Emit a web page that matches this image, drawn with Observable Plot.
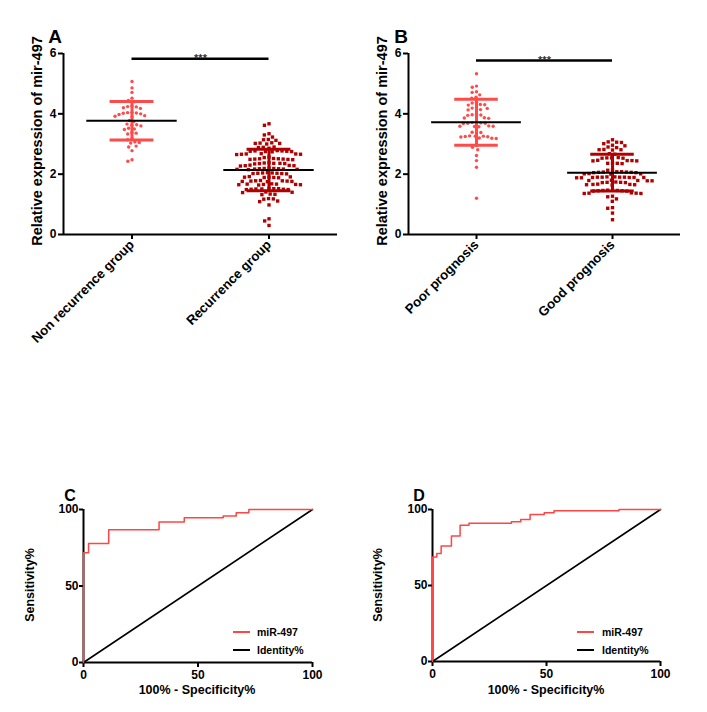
<!DOCTYPE html>
<html><head><meta charset="utf-8">
<script src="https://cdn.jsdelivr.net/npm/d3@7"></script>
<script src="https://cdn.jsdelivr.net/npm/@observablehq/plot@0.6"></script>
<style>
body{margin:0;background:#fff;}
#fig{position:relative;width:707px;height:712px;overflow:hidden;font-family:"Liberation Sans",Arial,sans-serif;font-weight:bold;color:#000;}
.abs{position:absolute;white-space:nowrap;line-height:1;}
.panel{position:absolute;}
</style></head><body><div id="fig"></div><script>
// ---------- data ----------
const groupsA = ["Non recurrence group", "Recurrence group"];
const nonRecurrence = [5.07, 4.86, 4.71, 4.52, 4.44, 4.40, 4.26, 4.24, 4.23, 4.20, 4.18, 4.05, 4.04, 4.03, 4.02, 4.00, 3.98, 3.94, 3.92, 3.90, 3.78, 3.75, 3.66, 3.64, 3.62, 3.60, 3.52, 3.50, 3.48, 3.38, 3.36, 3.33, 3.18, 3.14, 3.07, 3.05, 3.03, 2.93, 2.90, 2.78, 2.48, 2.43];
const recurrence = [3.67, 3.62, 3.34, 3.30, 3.23, 3.15, 3.14, 3.12, 3.04, 3.03, 3.02, 3.02, 3.00, 2.90, 2.89, 2.88, 2.86,
  2.78, 2.77, 2.77, 2.76, 2.76, 2.75, 2.75, 2.74, 2.68, 2.67, 2.67, 2.66, 2.66, 2.65, 2.57, 2.55,
  2.52, 2.51, 2.51, 2.50, 2.50, 2.49, 2.49, 2.48, 2.38, 2.37, 2.36, 2.36, 2.35, 2.35, 2.34,
  2.30, 2.29, 2.28, 2.28, 2.27, 2.20, 2.19, 2.19, 2.18, 2.18, 2.17, 2.17, 2.16, 2.16, 2.15,
  2.05, 2.04, 2.04, 2.03, 2.03, 2.02, 2.02, 2.01, 1.92, 1.91, 1.90, 1.90, 1.89, 1.89, 1.88,
  1.79, 1.78, 1.78, 1.77, 1.77, 1.76, 1.76, 1.75, 1.68, 1.67, 1.67, 1.66, 1.66, 1.65, 1.65, 1.64,
  1.53, 1.52, 1.52, 1.51, 1.51, 1.50, 1.50, 1.49, 1.49, 1.41, 1.40, 1.39, 1.34, 1.33, 1.32,
  1.19, 1.18, 1.17, 1.11, 1.09, 0.98, 0.52, 0.45, 0.30];
const meanA = [3.77, 2.14];
const sdA = [0.64, 0.69];

const groupsB = ["Poor prognosis", "Good prognosis"];
const poorPrognosis = [5.33, 4.92, 4.88, 4.73, 4.71, 4.63, 4.55, 4.52, 4.38, 4.36, 4.31, 4.30, 4.29, 4.20, 4.19, 4.18, 4.14, 4.13,
  3.98, 3.97, 3.96, 3.95, 3.87, 3.86, 3.85, 3.71, 3.71, 3.70, 3.69, 3.69, 3.68, 3.60, 3.59, 3.59, 3.58, 3.57,
  3.40, 3.39, 3.38, 3.27, 3.26, 3.26, 3.25, 3.24, 3.23, 3.20, 3.19, 3.18, 2.95, 2.89, 2.81, 2.62, 2.45, 2.23, 1.20];
const goodPrognosis = [3.14, 3.07, 3.06, 3.05, 3.01, 2.96, 2.94, 2.90, 2.88, 2.82, 2.81, 2.81, 2.80, 2.68, 2.66,
  2.55, 2.54, 2.54, 2.53, 2.53, 2.46, 2.45, 2.45, 2.44, 2.44, 2.37, 2.36, 2.36, 2.35, 2.15, 2.13,
  2.08, 2.08, 2.07, 2.07, 2.06, 2.06, 2.05, 2.05, 2.02, 2.01, 2.01, 2.00,
  1.91, 1.91, 1.90, 1.90, 1.90, 1.90, 1.89, 1.89, 1.89, 1.89, 1.88, 1.88,
  1.80, 1.79, 1.79, 1.78, 1.78, 1.74, 1.73, 1.73, 1.72, 1.72, 1.67, 1.66, 1.66, 1.65, 1.65, 1.64,
  1.47, 1.47, 1.46, 1.46, 1.45, 1.45, 1.44, 1.44, 1.38, 1.37, 1.37, 1.36, 1.36,
  1.27, 1.25, 1.18, 1.10, 0.89, 0.87, 0.71, 0.49];
const meanB = [3.72, 2.05];
const sdB = [0.76, 0.61];

const yTicks = [0, 2, 4, 6];
const yLabel = "Relative expression of mir-497";
const sigText = "***";
const sigA = 5.83, sigB = 5.77;

const rocC_fpr = [0, 0, 2.2, 11, 33, 44, 61, 66.7, 72.2, 100];
const rocC_tpr = [0, 71.7, 77.8, 86.7, 91.9, 94.6, 95.8, 97.8, 100, 100];
const rocD_fpr = [0, 0, 1.9, 3.8, 8.3, 12.1, 16, 34.6, 38.7, 42.8, 49, 53.3, 81.8, 100];
const rocD_tpr = [0, 68.8, 71, 76, 82.6, 89.7, 91, 92, 93.4, 96.7, 97.8, 99.1, 100, 100];
const identity = [0, 100];
const rocTicks = [0, 50, 100];
const rocXLabel = "100% - Specificity%";
const rocYLabel = "Sensitivity%";
const legendNames = ["miR-497", "Identity%"];

// ---------- styles ----------
const FONT = "'Liberation Sans', Arial, sans-serif";
const LIGHT = "#ff4a4a";
const DARK = "#b00000";
const ROCRED = "#ff4545";
const fig = document.getElementById("fig");

function place(el, left, top) {
  el.classList.add("panel");
  el.style.left = left + "px";
  el.style.top = top + "px";
  fig.appendChild(el);
}
function label(txt, cx, cy, size, rot) {
  const d = document.createElement("div");
  d.className = "abs";
  d.textContent = txt;
  d.style.fontSize = size + "px";
  d.style.left = cx + "px";
  d.style.top = cy + "px";
  d.style.transform = "translate(-50%,-50%)" + (rot ? " rotate(" + rot + "deg)" : "");
  fig.appendChild(d);
}
function legendRow(x, y, color, txt, textX) {
  const l = document.createElement("div");
  l.className = "abs";
  l.style.left = x + "px"; l.style.top = (y - 1) + "px";
  l.style.width = "17px"; l.style.height = "2px"; l.style.background = color;
  fig.appendChild(l);
  const t = document.createElement("div");
  t.className = "abs";
  t.textContent = txt;
  t.style.fontSize = "10.5px";
  t.style.left = textX + "px"; t.style.top = y + "px";
  t.style.transform = "translateY(-50%)";
  fig.appendChild(t);
}

function scatter(groups, v0, v1, means, sds, sigY, marginLeft, marginRight) {
  const pts0 = v0.map(v => ({g: groups[0], v}));
  const pts1 = v1.map(v => ({g: groups[1], v}));
  const colors = [LIGHT, DARK];
  const stats = groups.map((g, i) => ({g, mean: means[i], lo: means[i] - sds[i], hi: means[i] + sds[i], color: colors[i]}));
  const sig = [{g: groups[0], a: 0, b: 1}, {g: groups[1], a: -1, b: 0}];
  return Plot.plot({
    width: 350, height: 345,
    marginLeft, marginRight, marginTop: 53, marginBottom: 111,
    style: {fontFamily: FONT, fontSize: "12px", fontWeight: "bold", background: "transparent", color: "#000", overflow: "visible"},
    x: {domain: [-1, 1], axis: null},
    y: {domain: [0, 6]},
    fx: {domain: groups, padding: 0},
    marks: [
      Plot.axisFx({anchor: "bottom", tickRotate: -45, tickSize: 5, tickPadding: 3, strokeWidth: 2, fontSize: 13.2, label: null}),
      Plot.axisY({ticks: yTicks, tickFormat: "d", tickSize: 5, tickPadding: 2, strokeWidth: 2, fontSize: 12, label: null}),
      Plot.ruleY([0], {strokeWidth: 2}),
      Plot.ruleX([groups[0]], {fx: d => d, x: -1, y1: 0, y2: 6, strokeWidth: 2}),
      Plot.dot(pts0, Plot.dodgeX("middle", {fx: "g", y: "v", r: 1.7, padding: 2.6, fill: LIGHT, symbol: "circle"})),
      Plot.dot(pts1, Plot.dodgeX("middle", {fx: "g", y: "v", r: 1.9, padding: 1.2, fill: DARK, symbol: "square"})),
      Plot.ruleX(stats, {fx: "g", x: 0, y1: "lo", y2: "hi", stroke: d => d.color, strokeWidth: 3}),
      Plot.ruleY(stats, {fx: "g", y: "hi", x1: -0.32, x2: 0.32, stroke: d => d.color, strokeWidth: 3}),
      Plot.ruleY(stats, {fx: "g", y: "lo", x1: -0.32, x2: 0.32, stroke: d => d.color, strokeWidth: 3}),
      Plot.ruleY(stats, {fx: "g", y: "mean", x1: -0.66, x2: 0.66, stroke: "#000", strokeWidth: 2}),
      Plot.ruleY(sig, {fx: "g", y: sigY, x1: "a", x2: "b", strokeWidth: 2.5}),
      Plot.text([groups[0]], {fx: d => d, x: 1, y: sigY, text: () => sigText, fontSize: 11, fill: "#333", lineAnchor: "middle", dy: 0})
    ]
  });
}

function roc(fpr, tpr, marginLeft, marginRight, marginBottom) {
  const pts = fpr.map((f, i) => [f, tpr[i]]);
  return Plot.plot({
    width: 350, height: 242,
    marginLeft, marginRight, marginTop: 39, marginBottom,
    style: {fontFamily: FONT, fontSize: "12px", fontWeight: "bold", background: "transparent", color: "#000", overflow: "visible"},
    x: {domain: [0, 100]},
    y: {domain: [0, 100]},
    marks: [
      Plot.axisX({ticks: rocTicks, tickSize: 5, tickPadding: 3, strokeWidth: 2, label: null}),
      Plot.axisY({ticks: rocTicks, tickSize: 4, tickPadding: 1, strokeWidth: 2, label: null}),
      Plot.ruleX([0], {strokeWidth: 2}),
      Plot.ruleY([0], {strokeWidth: 2}),
      Plot.line(identity.map(v => [v, v]), {stroke: "#000", strokeWidth: 1.6}),
      Plot.line(pts, {curve: "step-after", stroke: ROCRED, strokeWidth: 1.5})
    ]
  });
}

place(scatter(groupsA, nonRecurrence, recurrence, meanA, sdA, sigA, 63, 13), 0, 0);
place(scatter(groupsB, poorPrognosis, goodPrognosis, meanB, sdB, sigB, 63, 14), 344, 0);
place(roc(rocC_fpr, rocC_tpr, 83, 38, 50), 0, 470);
place(roc(rocD_fpr, rocD_tpr, 82, 40, 51), 350, 470);

// panel letters
label("A", 55, 36, 19);
label("B", 401, 36, 19);
label("C", 70, 496, 16);
label("D", 419, 496, 16);
// axis titles
label(yLabel, 37, 141, 14.5, -90);
label(yLabel, 382, 141, 14.5, -90);
label(rocYLabel, 30, 585, 12.5, -90);
label(rocYLabel, 378, 585, 12.5, -90);
label(rocXLabel, 197, 690, 12.5);
label(rocXLabel, 546, 690, 12.5);
// legends
legendRow(233, 632, ROCRED, legendNames[0], 257);
legendRow(233, 650, "#000", legendNames[1], 257);
legendRow(577, 632, ROCRED, legendNames[0], 602);
legendRow(577, 650, "#000", legendNames[1], 602);
</script></body></html>
